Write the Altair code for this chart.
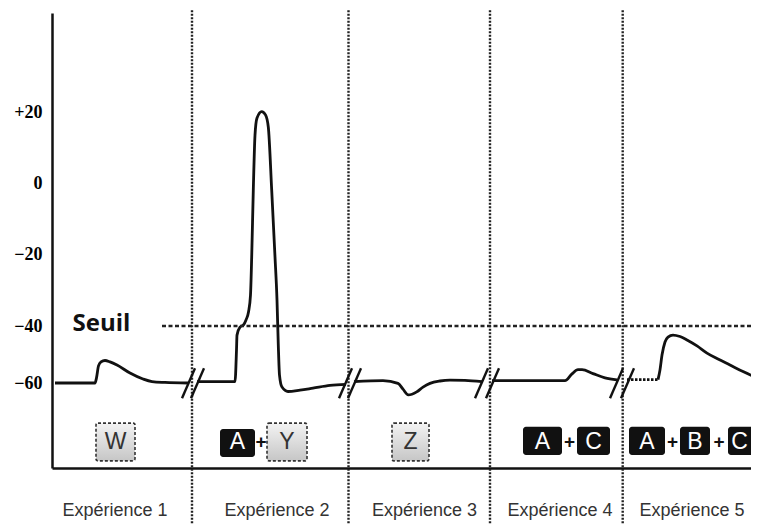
import altair as alt
import pandas as pd

# ---------------- data ----------------
y_ticks = [20, 0, -20, -40, -60]

# membrane potential traces (time in arbitrary units, potential in mV)
seg1_t = [3, 43, 44.5, 46.5, 49, 53, 58, 65, 78, 91, 100, 113, 136]
seg1_v = [-60, -60, -58.2, -54.0, -52.6, -52.1, -52.6, -53.7, -56.5, -58.6, -59.5, -59.8, -60]

seg2_t = [145, 183, 184.5, 185, 188, 191.5, 194, 196.5, 198.5, 199.7, 201.3, 203, 205,
          209.7, 213.5, 216.3, 219.7, 223, 225, 226.3, 227.5, 230, 236, 248, 261, 278, 294]
seg2_v = [-59.5, -59.5, -48.4, -43.2, -40.4, -39.7, -38.3, -36.1, -31.3, -20.6, -1.9, 13.5, 18.3,
          20.1, 19.2, 15.8, -1.9, -20.6, -32.7, -46.7, -57.2, -61.2, -62.5, -62.1, -61.5, -60.7, -60.4]

seg3_t = [302, 331, 346, 351, 356.3, 364.7, 371, 378, 388, 398, 413, 430]
seg3_v = [-59.5, -59.2, -60.1, -61.8, -63.5, -62.6, -61.2, -60.1, -59.3, -59.0, -59.1, -59.5]

seg4_t = [440, 513, 520, 526, 530, 541, 553, 565]
seg4_v = [-59.2, -59.2, -56.8, -55.3, -55.3, -56.7, -58.2, -58.9]

seg5_dot_t = [575, 606]
seg5_dot_v = [-58.8, -58.8]

seg5_t = [606, 608, 610, 613, 616, 621, 628, 635, 645, 655, 666, 678, 691, 705, 712]
seg5_v = [-58.8, -55.4, -50.2, -45.6, -43.9, -43.2, -43.7, -44.9, -47.0, -49.5, -51.6, -53.7, -56.0, -58.2, -59.1]

# break marks "//" on the trace
slash_t0 = [130, 139, 287, 296, 423, 434, 558, 569]
slash_t1 = [143, 152, 300, 309, 436, 447, 571, 582]
slash_v0 = [-64.5] * 8
slash_v1 = [-54.8] * 8

# threshold
seuil_value = -40
seuil_t = [110, 712]

# experiment separators
sep_t = [140, 296.5, 438, 570.7]
sep_top = 48.5
sep_bottom = -101.5

# experiment labels
exp_labels = ["Expérience 1", "Expérience 2", "Expérience 3", "Expérience 4", "Expérience 5"]
exp_t = [63, 225, 372.5, 508, 640]
exp_v = -97.6

# stimulus boxes
gray_letters = ["W", "Y", "Z"]
gray_t0 = [44, 215, 340]
gray_t1 = [83, 255, 377]
gray_v0 = -71.8
gray_v1 = -82.9

black_letters = ["A", "A", "C", "A", "B", "C"]
black_t0 = [168, 471, 525, 577, 628, 676]
black_t1 = [203, 510, 558, 613, 658, 709]
black_v0 = [-73.5, -72.9, -72.9, -72.9, -72.9, -72.9]
black_v1 = [-81.8, -81.2, -81.2, -81.2, -81.2, -81.2]

plus_t = [209, 517.5, 620.5, 667]
box_text_v = -77.4

T_MAX = 699

# ---------------- tables ----------------
trace = pd.DataFrame({
    "t": seg1_t + seg2_t + seg3_t + seg4_t + seg5_t,
    "v": seg1_v + seg2_v + seg3_v + seg4_v + seg5_v,
    "seg": [1] * len(seg1_t) + [2] * len(seg2_t) + [3] * len(seg3_t) + [4] * len(seg4_t) + [5] * len(seg5_t),
})
trace_dot = pd.DataFrame({"t": seg5_dot_t, "v": seg5_dot_v})
slashes = pd.DataFrame({"t": slash_t0, "t2": slash_t1, "v": slash_v0, "v2": slash_v1})
seuil = pd.DataFrame({"t": [seuil_t[0]], "t2": [seuil_t[1]], "v": [seuil_value]})
seps = pd.DataFrame({"t": sep_t, "v": [sep_top] * len(sep_t), "v2": [sep_bottom] * len(sep_t)})
exps = pd.DataFrame({"t": exp_t, "v": [exp_v] * len(exp_t), "label": exp_labels})
gray = pd.DataFrame({"t": gray_t0, "t2": gray_t1, "v": [gray_v0] * 3, "v2": [gray_v1] * 3,
                     "label": gray_letters})
gray["tc"] = (gray["t"] + gray["t2"]) / 2
gray["vc"] = box_text_v
black = pd.DataFrame({"t": black_t0, "t2": black_t1, "v": black_v0, "v2": black_v1,
                      "label": black_letters})
black["tc"] = (black["t"] + black["t2"].clip(upper=T_MAX)) / 2
black["vc"] = box_text_v
plus = pd.DataFrame({"t": plus_t, "v": [box_text_v] * len(plus_t), "label": ["+"] * len(plus_t)})
seuil_txt = pd.DataFrame({"t": [20.5], "v": [-41.75], "label": ["Seuil"]})

# ---------------- scales / axes ----------------
xscale = alt.Scale(domain=[0, T_MAX], nice=False, zero=False)
yscale = alt.Scale(domain=[-85, -60, -40, 20, 47.7], range=[455, 370, 313, 99, 0],
                   nice=False, zero=False)
xaxis = alt.Axis(title=None, labels=False, ticks=False, grid=False,
                 domainColor="#111", domainWidth=2.5)
yaxis = alt.Axis(title=None, values=y_ticks, ticks=False, grid=False,
                 domainColor="#111", domainWidth=2.5,
                 labelExpr="datum.value > 0 ? '+' + datum.label : datum.label",
                 labelFont="Liberation Serif", labelFontWeight="bold", labelFontSize=18,
                 labelColor="#000", labelPadding=10)


def X(f="t"):
    return alt.X(f, type="quantitative", scale=xscale, axis=xaxis)


def Y(f="v"):
    return alt.Y(f, type="quantitative", scale=yscale, axis=yaxis)


line = alt.Chart(trace).mark_line(color="#111", strokeWidth=2.8, interpolate="monotone",
                                  clip=True).encode(x=X(), y=Y(), detail="seg:N")
line_dot = alt.Chart(trace_dot).mark_line(color="#111", strokeWidth=2.8,
                                          strokeDash=[2.5, 1.5]).encode(x=X(), y=Y())
slash = alt.Chart(slashes).mark_rule(color="#111", strokeWidth=2.4).encode(
    x=X(), x2="t2", y=Y(), y2="v2")
thr = alt.Chart(seuil).mark_rule(color="#222", strokeWidth=2.3, strokeDash=[4, 2.5],
                                 clip=True).encode(x=X(), x2="t2", y=Y())
sep = alt.Chart(seps).mark_rule(color="#222", strokeWidth=2.4, strokeDash=[2, 1.5]).encode(
    x=X(), y=Y(), y2="v2")
exp_txt = alt.Chart(exps).mark_text(font="Liberation Sans", fontSize=18, color="#333",
                                    baseline="middle").encode(x=X(), y=Y(), text="label")

grad = alt.Gradient(gradient="linear",
                    stops=[alt.GradientStop(color="#f3f3f3", offset=0),
                           alt.GradientStop(color="#c6c6c6", offset=1)],
                    x1=0, x2=0, y1=0, y2=1)
gray_box = alt.Chart(gray).mark_rect(fill=grad, stroke="#333", strokeWidth=1.6,
                                     strokeDash=[3, 2], cornerRadius=2).encode(
    x=X(), x2="t2", y=Y(), y2="v2")
gray_txt = alt.Chart(gray).mark_text(font="Liberation Sans", fontSize=23, color="#333",
                                     baseline="middle").encode(
    x=X("tc"), y=Y("vc"), text="label")
black_box = alt.Chart(black).mark_rect(fill="#111", cornerRadius=3, clip=True).encode(
    x=X(), x2="t2", y=Y(), y2="v2")
black_txt = alt.Chart(black).mark_text(font="Liberation Sans", fontSize=23, color="#fff",
                                       baseline="middle").encode(
    x=X("tc"), y=Y("vc"), text="label")
plus_txt = alt.Chart(plus).mark_text(font="Liberation Sans", fontSize=19, fontWeight="bold",
                                     color="#111", baseline="middle").encode(
    x=X(), y=Y(), text="label")
seuil_lbl = alt.Chart(seuil_txt).mark_text(font="Open Sans", fontSize=24, fontWeight="bold",
                                           color="#111", align="left",
                                           baseline="alphabetic").encode(
    x=X(), y=Y(), text="label")

chart = alt.layer(
    line, sep, thr, line_dot, slash, gray_box, black_box, gray_txt, black_txt, plus_txt,
    seuil_lbl, exp_txt
).properties(
    width=T_MAX, height=455,
    autosize=alt.AutoSizeParams(type="none"),
    padding={"left": 44, "top": 5, "right": 0, "bottom": 56},
    background="white",
).configure_view(stroke=None)

chart.save("out.html", embed_options={"renderer": "svg", "actions": False})
